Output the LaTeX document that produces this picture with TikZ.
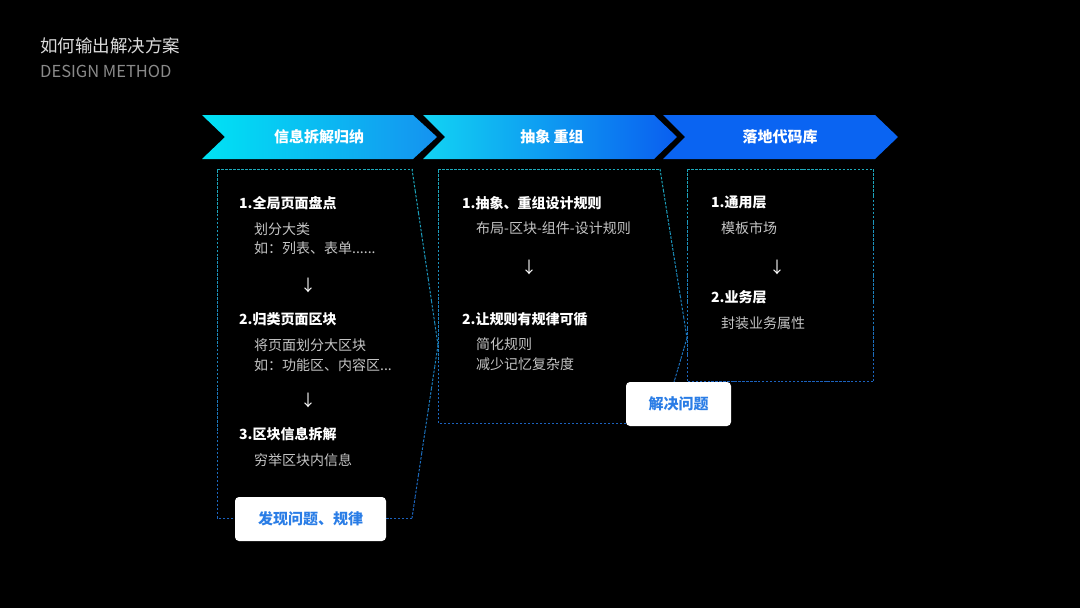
\documentclass[tikz,border=0pt]{standalone}
\usepackage{fontspec}
\setmainfont{Noto Sans CJK SC}
\usetikzlibrary{calc}
\definecolor{dteal}{HTML}{1CAABB}
\definecolor{dblue}{HTML}{1C62BE}
\definecolor{bodygray}{HTML}{C4C4C4}
\definecolor{titlegray}{HTML}{DCDCDC}
\definecolor{subgray}{HTML}{8A8A8A}
\definecolor{btnblue}{HTML}{2A7DE6}
\definecolor{cyanA}{HTML}{00E3F4}
\definecolor{blueA}{HTML}{1592F0}
\definecolor{cyanB}{HTML}{12D4F3}
\definecolor{blueB}{HTML}{0A6AF0}
\definecolor{blueC}{HTML}{0A5EF0}
\definecolor{blueD}{HTML}{0A64F2}
\newcommand\gseg[4]{%
  \foreach \i in {0,...,7}{%
    \pgfmathsetmacro\ta{\i/8}%
    \pgfmathsetmacro\tb{(\i+1)/8}%
    \pgfmathtruncatemacro\pc{#3+(#4-#3)*(\i+0.5)/8}%
    \draw[dashline, draw=dteal!\pc!dblue] ($(#1)!\ta!(#2)$) -- ($(#1)!\tb!(#2)$);
  }}
\begin{document}
\begin{tikzpicture}[x=1pt,y=-1pt,
  dashline/.style={line width=1pt, dash pattern=on 2.5pt off 1.5pt},
  head/.style={anchor=west, inner sep=0pt, text=white, font=\bfseries\fontsize{14}{14}\selectfont},
  body/.style={anchor=west, inner sep=0pt, text=bodygray, font=\fontsize{14}{14}\selectfont},
  darrow/.style={inner sep=0pt, text=white, font=\fontsize{16}{16}\selectfont},
  chevlabel/.style={inner sep=0pt, text=white, font=\bfseries\fontsize{15}{15}\selectfont},
  btn/.style={fill=white, rounded corners=4pt, inner sep=0pt, text=btnblue, font=\bfseries\fontsize{15}{15}\selectfont, minimum height=44pt}
]
\useasboundingbox[fill=black] (0,0) rectangle (1080,608);

% title
\node[anchor=west, inner sep=0pt, text=titlegray, font=\fontsize{17.5}{17.5}\selectfont] (title) at (40,46) {如何输出解决方案};
\node[anchor=west, inner sep=0pt, text=subgray, font=\fontsize{16.5}{16.5}\selectfont] (subtitle) at (40,71) {DESIGN METHOD};

% chevrons
\shade[left color=cyanA, right color=blueA] (202,115) -- (413,115) -- (437,137) -- (413,159) -- (202,159) -- (225,137) -- cycle;
\shade[left color=cyanB, middle color=blueB, right color=blueC] (423,115) -- (654,115) -- (677,137) -- (654,159) -- (423,159) -- (445,137) -- cycle;
\fill[blueD] (663,115) -- (875,115) -- (898,137) -- (875,159) -- (663,159) -- (685,137) -- cycle;
\node[chevlabel] (c1) at (319,137) {信息拆解归纳};
\node[chevlabel] (c2) at (552,137) {抽象 重组};
\node[chevlabel] (c3) at (780,137) {落地代码库};

% dashed outlines
\coordinate (a1) at (217,169); \coordinate (a2) at (412,169); \coordinate (a3) at (438,345);
\coordinate (a4) at (412,518); \coordinate (a5) at (217,518);
\gseg{a1}{a2}{100}{100}
\gseg{a2}{a3}{100}{50}
\gseg{a3}{a4}{50}{0}
\gseg{a4}{a5}{0}{0}
\gseg{a5}{a1}{0}{100}

\coordinate (b1) at (438,169); \coordinate (b2) at (660,169); \coordinate (b3) at (687,338);
\coordinate (b4) at (662,423); \coordinate (b5) at (438,423);
\gseg{b1}{b2}{100}{100}
\gseg{b2}{b3}{100}{30}
\gseg{b3}{b4}{30}{0}
\gseg{b4}{b5}{0}{0}
\gseg{b5}{b1}{0}{100}

\coordinate (d1) at (687,169); \coordinate (d2) at (873,169); \coordinate (d3) at (873,381); \coordinate (d4) at (687,381);
\gseg{d1}{d2}{100}{100}
\gseg{d2}{d3}{100}{0}
\gseg{d3}{d4}{0}{0}
\gseg{d4}{d1}{0}{100}

% column 1
\node[head] (h11) at (239,203) {1.全局页面盘点};
\node[body] (t11) at (254,229) {划分大类};
\node[body] (t12) at (254,248) {如：列表、表单......};
\node[darrow] (ar11) at (308,285) {↓};
\node[head] (h12) at (239,319) {2.归类页面区块};
\node[body] (t13) at (254,345) {将页面划分大区块};
\node[body] (t14) at (254,365) {如：功能区、内容区...};
\node[darrow] (ar12) at (308,400) {↓};
\node[head] (h13) at (239,434) {3.区块信息拆解};
\node[body] (t15) at (254,460) {穷举区块内信息};
\node[btn, minimum width=151pt] (btn1) at (310.5,519) {发现问题、规律};

% column 2
\node[head] (h21) at (462,203) {1.抽象、重组设计规则};
\node[body] (t21) at (476,228) {布局-区块-组件-设计规则};
\node[darrow] (ar21) at (529,267) {↓};
\node[head] (h22) at (462,319) {2.让规则有规律可循};
\node[body] (t22) at (476,344) {简化规则};
\node[body] (t23) at (476,364) {减少记忆复杂度};
\node[btn, minimum width=105pt] (btn2) at (678.5,404) {解决问题};

% column 3
\node[head] (h31) at (711,202) {1.通用层};
\node[body] (t31) at (721,228) {模板市场};
\node[darrow] (ar31) at (777,267) {↓};
\node[head] (h32) at (711,297) {2.业务层};
\node[body] (t32) at (721,323) {封装业务属性};
\end{tikzpicture}
\end{document}
